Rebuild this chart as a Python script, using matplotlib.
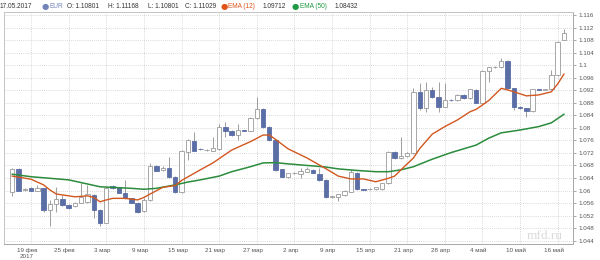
import matplotlib
matplotlib.use("Agg")
import matplotlib.pyplot as plt
import matplotlib.transforms as mtransforms
import numpy as np

plt.rcParams['font.family'] = ['Liberation Sans', 'DejaVu Sans']

# ---- data ----
opens = [1.0596, 1.0668, 1.0602, 1.0609, 1.0599, 1.0607, 1.0538, 1.0557, 1.0573, 1.0554,
         1.0551, 1.0561, 1.0564, 1.0586, 1.0538, 1.0497, 1.0614, 1.0610, 1.0593, 1.0575,
         1.0561, 1.0534, 1.0570, 1.0678, 1.0664, 1.0671, 1.0644, 1.0596, 1.0724, 1.0759,
         1.0733, 1.0728, 1.0727, 1.0732, 1.0804, 1.0791, 1.0777, 1.0792, 1.0791, 1.0830,
         1.0859, 1.0804, 1.0761, 1.0668, 1.0644, 1.0655, 1.0653, 1.0660, 1.0666, 1.0653,
         1.0634, 1.0580, 1.0579, 1.0586, 1.0596, 1.0657, 1.0604, 1.0604, 1.0604, 1.0604,
         1.0623, 1.0724, 1.0703, 1.0709, 1.0719, 1.0915, 1.0862, 1.0921, 1.0897, 1.0867,
         1.0889, 1.0889, 1.0905, 1.0894, 1.0921, 1.0880, 1.0982, 1.0993, 1.0993, 1.1014,
         1.0926, 1.0867, 1.0862, 1.0855, 1.0923, 1.0922, 1.0923, 1.0969, 1.10801]
highs = [1.0673, 1.0672, 1.0608, 1.0611, 1.0618, 1.0609, 1.0570, 1.0612, 1.0586, 1.0556,
         1.0562, 1.0623, 1.0618, 1.0590, 1.0540, 1.0612, 1.0617, 1.0612, 1.0634, 1.0577,
         1.0563, 1.0575, 1.0688, 1.0681, 1.0678, 1.0708, 1.0647, 1.0730, 1.0763, 1.0788,
         1.0735, 1.0732, 1.0770, 1.0812, 1.0819, 1.0793, 1.0812, 1.0794, 1.0833, 1.0897,
         1.0862, 1.0806, 1.0764, 1.0670, 1.0657, 1.0659, 1.0672, 1.0675, 1.0668, 1.0672,
         1.0636, 1.0584, 1.0590, 1.0601, 1.0666, 1.0660, 1.0606, 1.0607, 1.0612, 1.0625,
         1.0726, 1.0727, 1.0772, 1.0722, 1.0926, 1.0943, 1.0947, 1.0931, 1.0947, 1.0942,
         1.0891, 1.0907, 1.0907, 1.0925, 1.0924, 1.0985, 1.0995, 1.0996, 1.1022, 1.1017,
         1.0928, 1.0869, 1.0864, 1.0925, 1.0925, 1.0925, 1.0985, 1.1078, 1.11168]
lows = [1.0583, 1.0597, 1.0599, 1.0597, 1.0597, 1.0532, 1.0487, 1.0533, 1.0551, 1.0540,
        1.0548, 1.0559, 1.0560, 1.0511, 1.0487, 1.0496, 1.0606, 1.0591, 1.0573, 1.0559,
        1.0529, 1.0530, 1.0566, 1.0661, 1.0661, 1.0641, 1.0592, 1.0592, 1.0697, 1.0725,
        1.0729, 1.0726, 1.0725, 1.0730, 1.0771, 1.0775, 1.0761, 1.0789, 1.0789, 1.0828,
        1.0801, 1.0758, 1.0663, 1.0642, 1.0641, 1.0652, 1.0640, 1.0658, 1.0655, 1.0631,
        1.0576, 1.0576, 1.0566, 1.0584, 1.0594, 1.0601, 1.0601, 1.0602, 1.0602, 1.0602,
        1.0620, 1.0700, 1.0700, 1.0706, 1.0716, 1.0857, 1.0852, 1.0895, 1.0852, 1.0865,
        1.0886, 1.0887, 1.0892, 1.0892, 1.0878, 1.0878, 1.0947, 1.0991, 1.0991, 1.0924,
        1.0857, 1.0860, 1.0836, 1.0852, 1.0920, 1.0920, 1.0920, 1.0966, 1.10801]
closes = [1.0668, 1.0600, 1.0605, 1.0599, 1.0607, 1.0538, 1.0557, 1.0573, 1.0554, 1.0543,
          1.0559, 1.0580, 1.0588, 1.0538, 1.0497, 1.0607, 1.0608, 1.0593, 1.0575, 1.0561,
          1.0533, 1.0570, 1.0678, 1.0663, 1.0672, 1.0644, 1.0596, 1.0727, 1.0761, 1.0727,
          1.0731, 1.0730, 1.0735, 1.0804, 1.0791, 1.0777, 1.0793, 1.0791, 1.0830, 1.0859,
          1.0804, 1.0761, 1.0666, 1.0644, 1.0655, 1.0656, 1.0663, 1.0668, 1.0657, 1.0634,
          1.0580, 1.0581, 1.0588, 1.0599, 1.0660, 1.0604, 1.0603, 1.0606, 1.0610, 1.0623,
          1.0724, 1.0703, 1.0710, 1.0720, 1.0915, 1.0862, 1.0921, 1.0897, 1.0867, 1.0889,
          1.0888, 1.0905, 1.0894, 1.0923, 1.0880, 1.0982, 1.0993, 1.0994, 1.1014, 1.0926,
          1.0866, 1.0862, 1.0855, 1.0923, 1.0922, 1.0923, 1.0969, 1.1075, 1.11029]

ema12_idx = [0, 3, 5, 6, 7, 9, 10, 12, 13, 14, 15, 16, 18, 20, 21, 22, 24, 26, 27, 30,
             32, 35, 38, 40, 41, 42, 44, 47, 50, 52, 54, 56, 58, 60, 61, 62, 64, 65, 67,
             69, 71, 73, 74, 76, 78, 79, 80, 82, 84, 86, 87, 88]
ema12_val = [1.0646, 1.0636, 1.0618, 1.0602, 1.0589, 1.0583, 1.0580, 1.0583, 1.0578, 1.0564,
             1.0570, 1.0575, 1.0575, 1.0570, 1.0578, 1.0589, 1.0610, 1.0616, 1.0632, 1.0666,
             1.0688, 1.0729, 1.0756, 1.0777, 1.0777, 1.0763, 1.0733, 1.0704, 1.0670, 1.0646,
             1.0637, 1.0637, 1.0628, 1.0639, 1.0646, 1.0666, 1.0704, 1.0734, 1.0780, 1.0804,
             1.0825, 1.0851, 1.0859, 1.0887, 1.0926, 1.0921, 1.0915, 1.0902, 1.0905, 1.0915,
             1.0940, 1.09712]

ema50_idx = [0, 3, 9, 14, 19, 21, 23, 26, 28, 30, 33, 35, 38, 40, 42, 44, 47, 50, 52, 55,
             58, 60, 62, 64, 67, 70, 74, 76, 78, 81, 84, 86, 88]
ema50_val = [1.0652, 1.0644, 1.0634, 1.0612, 1.0607, 1.0604, 1.0607, 1.0618, 1.0627, 1.0634,
             1.0646, 1.0660, 1.0676, 1.0688, 1.0689, 1.0685, 1.0680, 1.0675, 1.0669, 1.0664,
             1.0660, 1.0660, 1.0666, 1.0676, 1.0700, 1.0721, 1.0745, 1.0767, 1.0784, 1.0793,
             1.0804, 1.0816, 1.08432]

xtick_pos = [3, 9, 15, 21, 27, 33, 39, 45, 51, 57, 63, 69, 75, 81, 87]
xtick_labels = ["19 фев\n2017", "25 фев", "3 мар", "9 мар", "15 мар", "21 мар", "27 мар",
                "2 апр", "9 апр", "15 апр", "21 апр", "28 апр", "4 май", "10 май", "16 май"]
ytick_labels = ["1.044", "1.048", "1.052", "1.056", "1.06", "1.064", "1.068", "1.072",
                "1.076", "1.08", "1.084", "1.088", "1.092", "1.096", "1.1", "1.104",
                "1.108", "1.112", "1.116"]

header_date = "17.05.2017"
header_sym = "EUR"
header_ohlc = ["O: 1.10801", "H: 1.11168", "L: 1.10801", "C: 1.11029"]
ema12_label, ema12_last = "EMA (12)", "1.09712"
ema50_label, ema50_last = "EMA (50)", "1.08432"

# ---- styles ----
UP_FACE = "white"
UP_EDGE = "#9a9a9a"
DN_COLOR = "#5b6ea6"
WICK = "#8e8e8e"
ORANGE = "#d2571f"
GREEN = "#2b8c3c"

W, H = 600, 260
fig = plt.figure(figsize=(6, 2.6), dpi=100)
ax = fig.add_axes([4 / W, 16 / H, (572.7 - 4) / W, (244 - 12) / H])
ax.set_xlim(-1.32, 89.4)
ax.set_ylim(1.04294, 1.11695)

x = np.arange(len(opens))
o = np.array(opens); c = np.array(closes); hi = np.array(highs); lo = np.array(lows)
up = c >= o
bottoms = np.minimum(o, c)
heights = np.maximum(np.abs(c - o), 0.00005)

ax.vlines(x, lo, hi, color=WICK, lw=0.6, zorder=2)
ax.bar(x[up], heights[up], bottom=bottoms[up], width=0.7, color=UP_FACE,
       edgecolor=UP_EDGE, linewidth=0.6, zorder=3)
ax.bar(x[~up], heights[~up], bottom=bottoms[~up], width=0.7, color=DN_COLOR,
       edgecolor=DN_COLOR, linewidth=0.6, zorder=3)

ax.plot(ema50_idx, ema50_val, color=GREEN, lw=1.1, zorder=4)
ax.plot(ema12_idx, ema12_val, color=ORANGE, lw=1.0, zorder=4)

# axes styling
ax.yaxis.tick_right()
ax.set_yticks([float(s) for s in ytick_labels])
ax.set_yticklabels(ytick_labels)
ax.set_xticks(xtick_pos)
ax.set_xticklabels(xtick_labels, linespacing=1.1)
ax.tick_params(axis='y', length=2.5, width=0.6, color='#9a9a9a', pad=1.5,
               labelsize=4.5, labelcolor='#555555')
ax.tick_params(axis='x', length=0, pad=3, labelsize=4.5, labelcolor='#555555')
offset = mtransforms.ScaledTranslation(-4 / 100, 0, fig.dpi_scale_trans)
for lab in ax.get_xticklabels():
    lab.set_transform(lab.get_transform() + offset)
ax.grid(True, ls=(0, (1, 1.5)), color='#cccccc', lw=0.6, zorder=0)
ax.set_axisbelow(True)
for s in ax.spines.values():
    s.set_color('#c4c4c4')
    s.set_linewidth(0.7)
ax.spines['bottom'].set_color('#a8a8a8')
ax.spines['right'].set_color('#a8a8a8')

# watermark
fig.text(563 / W, 1 - 236 / H, "mfd.ru", family=['Liberation Serif', 'DejaVu Serif'],
         fontsize=9.5, color='#dadada', ha='right', va='center')

# header
hy = 1 - 6 / H
def ht(px, s, color='#333333', **kw):
    fig.text(px / W, hy, s, fontsize=4.7, color=color, ha='left', va='center', **kw)

ht(0, header_date)
fig.text(45 / W, hy, "●", fontsize=6, color="#7184b8", ha='center', va='center',
         family=['DejaVu Sans'])
ht(50, header_sym, color="#7184b8")
for px, s in zip([67, 108, 148, 185], header_ohlc):
    ht(px, s)
fig.text(224 / W, hy, "●", fontsize=6, color="#e0541a", ha='center', va='center',
         family=['DejaVu Sans'])
ht(228.5, ema12_label, color="#e0541a")
ht(263, ema12_last)
fig.text(295 / W, hy, "●", fontsize=6, color="#1f9a43", ha='center', va='center',
         family=['DejaVu Sans'])
ht(299.5, ema50_label, color="#1f9a43")
ht(335, ema50_last)

fig.savefig("out.png", dpi=100)
